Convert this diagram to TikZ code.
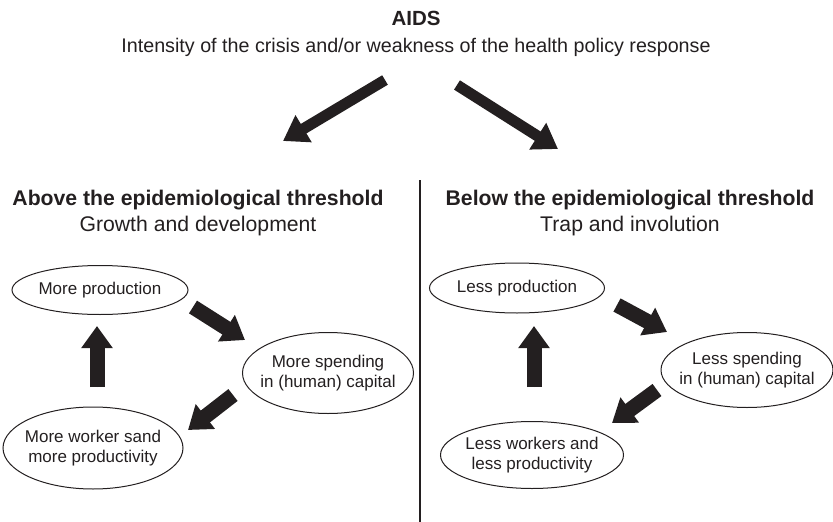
\documentclass[tikz,border=0pt]{standalone}
\usepackage{fontspec}
\setmainfont{Liberation Sans}
\usetikzlibrary{arrows.meta,positioning,shapes.geometric}
\definecolor{ink}{HTML}{231F20}
\tikzset{
  every node/.style={text=ink,font=\fontsize{19.7}{24}\selectfont},
  title/.style={font=\fontsize{20.5}{24}\selectfont\bfseries},
  heading/.style={align=center,font=\fontsize{21.2}{26}\selectfont},
  oval/.style={ellipse,draw=ink,line width=1pt,inner xsep=-20pt,inner ysep=-8pt,align=center,font=\fontsize{17}{20}\selectfont},
  fat/.style={-{Triangle[width=30pt,length=22pt]},line width=15pt,draw=ink,fill=ink},
  slim/.style={-{Triangle[width=30pt,length=24pt]},line width=11pt,draw=ink,fill=ink},
  divider/.style={draw=ink,line width=1.2pt},
}
\begin{document}
\begin{tikzpicture}[x=1pt,y=-1pt]
\useasboundingbox (0,0) rectangle (833,522);

\node[title] (aids) at (416,18) {AIDS};
\node (sub) at (416,47) {Intensity of the crisis and/or weakness of the health policy response};

\node[heading] (above) at (198,213) {\textbf{Above the epidemiological threshold}\\Growth and development};
\node[heading] (below) at (630,213) {\textbf{Below the epidemiological threshold}\\Trap and involution};

\coordinate (lt) at (385,80);
\coordinate (lh) at (283,141);
\coordinate (rt) at (457,85);
\coordinate (rh) at (558,149);
\draw[slim] (lt) -- (lh);
\draw[slim] (rt) -- (rh);

\draw[divider] (420,180) -- (420,522);

% left cycle
\node[oval,minimum width=176pt,minimum height=49pt] (prodA) at (100,290) {More production};
\node[oval,minimum width=171pt,minimum height=81pt] (spendA) at (328,373) {More spending\\in (human) capital};
\node[oval,minimum width=180pt,minimum height=82pt] (workA) at (93,448) {More worker sand\\more productivity};

\coordinate (a1) at (193,307);
\coordinate (a2) at (245,340);
\coordinate (a3) at (233,395);
\coordinate (a4) at (188,430);
\coordinate (a5) at (97,387);
\coordinate (a6) at (97,326);
\draw[fat] (a1) -- (a2);
\draw[fat] (a3) -- (a4);
\draw[fat] (a5) -- (a6);

% right cycle
\node[oval,minimum width=175pt,minimum height=50pt] (prodB) at (517,288) {Less production};
\node[oval,minimum width=172pt,minimum height=75pt] (spendB) at (747,370) {Less spending\\in (human) capital};
\node[oval,minimum width=183pt,minimum height=67pt] (workB) at (532,455) {Less workers and\\less productivity};

\coordinate (b1) at (617,305);
\coordinate (b2) at (667,332);
\coordinate (b3) at (657,390);
\coordinate (b4) at (612,423);
\coordinate (b5) at (534,387);
\coordinate (b6) at (534,326);
\draw[fat] (b1) -- (b2);
\draw[fat] (b3) -- (b4);
\draw[fat] (b5) -- (b6);

\end{tikzpicture}
\end{document}
